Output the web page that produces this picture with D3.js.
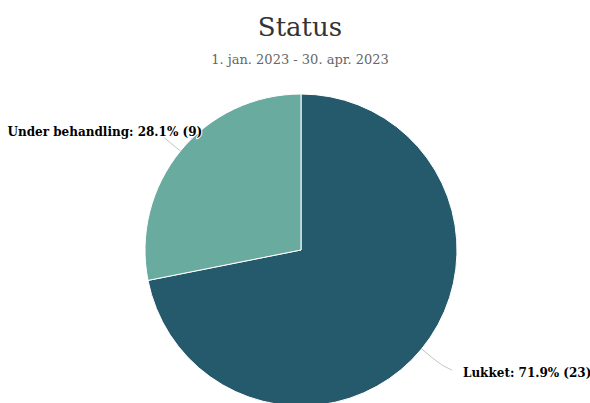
<!DOCTYPE html>
<html>
<head>
<meta charset="utf-8">
<script src="https://cdn.jsdelivr.net/npm/d3@7/dist/d3.min.js"></script>
<style>
  body { margin: 0; background: #fff; }
  svg text { font-family: "DejaVu Serif", serif; }
</style>
</head>
<body>
<div id="chart"></div>
<script>
// data
var categories = ["Lukket", "Under behandling"];
var counts = [23, 9];
var colors = ["#25596c", "#6aaba0"];

var W = 590, H = 403;
var cx = 301, cy = 250, R = 156;

var svg = d3.select("#chart").append("svg")
    .attr("width", W).attr("height", H);

// title + subtitle
svg.append("text").attr("x", 300).attr("y", 36)
    .attr("text-anchor", "middle").attr("fill", "#333")
    .style("font-size", "26px").text("Status");
svg.append("text").attr("x", 300).attr("y", 64)
    .attr("text-anchor", "middle").attr("fill", "#666")
    .style("font-size", "13px").text("1. jan. 2023 - 30. apr. 2023");

var total = d3.sum(counts);
var data = categories.map(function(c, i) { return { name: c, value: counts[i], color: colors[i] }; });

var pie = d3.pie().sort(null).value(function(d) { return d.value; });
var arc = d3.arc().innerRadius(0).outerRadius(R);
var arcs = pie(data);

var g = svg.append("g").attr("transform", "translate(" + cx + "," + cy + ")");

g.selectAll("path.slice").data(arcs).enter().append("path")
    .attr("class", "slice")
    .attr("d", arc)
    .attr("fill", function(d) { return d.data.color; })
    .attr("stroke", "#fff").attr("stroke-width", 1).attr("stroke-linejoin", "round");

// connectors + labels
function pt(a, r) { return [Math.sin(a) * r, -Math.cos(a) * r]; }

arcs.forEach(function(d) {
    var mid = (d.startAngle + d.endAngle) / 2;
    var right = Math.sin(mid) > 0;
    var p0 = pt(mid, R);
    var p1 = pt(mid, R + (right ? 16 : 21));
    var p2 = right ? [p1[0] + 18, p1[1] + 11] : p1;
    var path = right
        ? "M" + p0 + "L" + p1 + "Q" + [p1[0] + 8, p1[1] + 7] + " " + p2
        : "M" + p0 + "L" + p1;
    g.append("path").attr("d", path)
        .attr("fill", "none").attr("stroke", "#c4c4c4").attr("stroke-width", 1);

    var pct = (d.value / total * 100).toFixed(1);
    g.append("text")
        .attr("x", right ? p2[0] + 11 : p2[0] + 38)
        .attr("y", right ? p2[1] + 7 : p2[1] - 1.5)
        .attr("text-anchor", right ? "start" : "end")
        .attr("fill", "#000")
        .style("font-size", "12px").style("font-weight", "bold")
        .style("paint-order", "stroke").attr("stroke", "#fff").attr("stroke-width", 2)
        .text(d.data.name + ": " + pct + "% (" + d.value + ")");
});
</script>
</body>
</html>
